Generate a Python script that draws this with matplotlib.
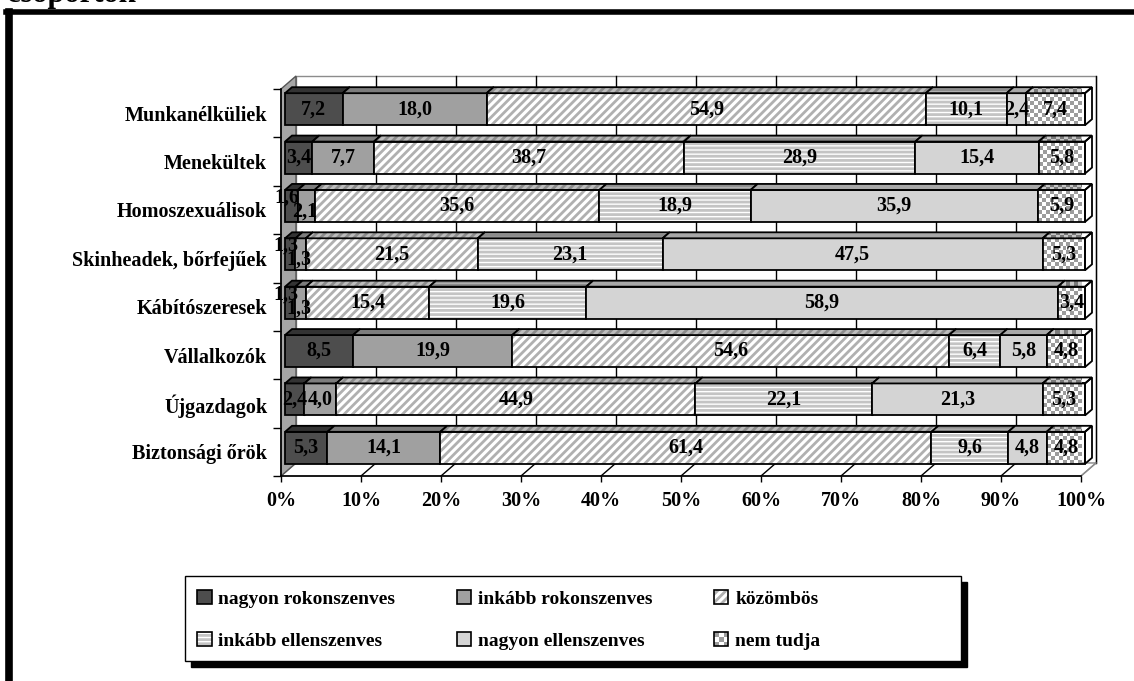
import numpy as np
import matplotlib.pyplot as plt
from matplotlib.patches import Polygon, Rectangle, Patch
from matplotlib.lines import Line2D
from matplotlib.colors import ListedColormap
from matplotlib.legend_handler import HandlerBase

plt.rcParams['font.family'] = ['Liberation Serif', 'DejaVu Serif']
plt.rcParams['font.weight'] = 'bold'
plt.rcParams['hatch.linewidth'] = 2.0

# data (top row first)
categories = ['Munkanélküliek', 'Menekültek', 'Homoszexuálisok', 'Skinheadek, bőrfejűek',
              'Kábítószeresek', 'Vállalkozók', 'Újgazdagok', 'Biztonsági őrök']
series = ['nagyon rokonszenves', 'inkább rokonszenves', 'közömbös',
          'inkább ellenszenves', 'nagyon ellenszenves', 'nem tudja']
nagyon_rokonszenves = [7.2, 3.4, 1.6, 1.3, 1.3, 8.5, 2.4, 5.3]
inkabb_rokonszenves = [18.0, 7.7, 2.1, 1.3, 1.3, 19.9, 4.0, 14.1]
kozombos = [54.9, 38.7, 35.6, 21.5, 15.4, 54.6, 44.9, 61.4]
inkabb_ellenszenves = [10.1, 28.9, 18.9, 23.1, 19.6, 6.4, 22.1, 9.6]
nagyon_ellenszenves = [2.4, 15.4, 35.9, 47.5, 58.9, 5.8, 21.3, 4.8]
nem_tudja = [7.4, 5.8, 5.9, 5.3, 3.4, 4.8, 5.3, 4.8]
xticks = [0, 10, 20, 30, 40, 50, 60, 70, 80, 90, 100]

values = np.array([nagyon_rokonszenves, inkabb_rokonszenves, kozombos,
                   inkabb_ellenszenves, nagyon_ellenszenves, nem_tudja]).T
shares = values / values.sum(axis=1, keepdims=True) * 100  # 100% stacked

# face styles: front, top, side  -> (facecolor, hatch, hatchcolor) or ('checker', c1, c2)
styles = [
    [('#4d4d4d', None, None), ('#333333', None, None), ('#262626', None, None)],
    [('#a0a0a0', None, None), ('#7d7d7d', None, None), ('#666666', None, None)],
    [('white', '////', '#b0b0b0'), ('#bdbdbd', '////', '#8c8c8c'), ('#bdbdbd', '////', '#8c8c8c')],
    [('white', '----', '#c4c4c4'), ('#b0b0b0', '----', '#8c8c8c'), ('#b0b0b0', '----', '#8c8c8c')],
    [('#d4d4d4', None, None), ('#a8a8a8', None, None), ('#8a8a8a', None, None)],
    [('checker', '#9c9c9c', 'white'), ('checker', '#7a7a7a', '#c6c6c6'), ('checker', '#4d4d4d', '#8a8a8a')],
]

W, H = 1134, 681
n = len(categories)
fig = plt.figure(figsize=(W / 100, H / 100), dpi=100)
ax = fig.add_axes([281 / W, 1 - 476 / H, 800 / W, 387 / H])
PX = 100 / 800   # data units per pixel, x
PY = n / 387     # data units per pixel, y
WDX, WDY = 15 * PX, 13 * PY   # wall depth
ylo, yhi = -0.5, n - 0.5


def checker_face(verts, c1, c2, z, cell=4):
    verts = np.asarray(verts)
    x0, y0 = verts.min(axis=0)
    x1, y1 = verts.max(axis=0)
    nx = max(1, int(round((x1 - x0) / PX / cell)))
    ny = max(1, int(round((y1 - y0) / PY / cell)))
    grid = np.add.outer(np.arange(ny), np.arange(nx)) % 2
    clip = Polygon(verts, closed=True, transform=ax.transData)
    ax.imshow(grid, cmap=ListedColormap([c1, c2]), vmin=0, vmax=1,
              extent=(x0, x1, y0, y1), origin='lower', aspect='auto',
              interpolation='nearest', clip_path=clip, zorder=z)


def face(verts, style, z):
    if style[0] == 'checker':
        checker_face(verts, style[1], style[2], z)
    else:
        ax.add_patch(Polygon(verts, closed=True, facecolor=style[0],
                             edgecolor=style[2] or 'none', hatch=style[1],
                             lw=0, zorder=z, clip_on=False))
    ax.add_patch(Polygon(verts, closed=True, fill=False, edgecolor='black',
                         lw=1.3, zorder=z + 0.01, clip_on=False, joinstyle='miter'))


# back wall, floor and left wall
ax.add_patch(Rectangle((WDX, ylo + WDY), 100, yhi - ylo, facecolor='white',
                       edgecolor='#8c8c8c', lw=1, zorder=0, clip_on=False))
ax.add_patch(Polygon([(0, ylo), (100, ylo), (100 + WDX, ylo + WDY), (WDX, ylo + WDY)],
                     facecolor='white', edgecolor='#8c8c8c', lw=1, zorder=0, clip_on=False))
for t in xticks[1:]:
    ax.plot([t + WDX, t + WDX], [ylo + WDY, yhi + WDY], color='black', lw=1, zorder=0.5, clip_on=False)
    ax.plot([t, t + WDX], [ylo, ylo + WDY], color='black' if t < 100 else '#8c8c8c',
            lw=1, zorder=0.5, clip_on=False)
ax.add_patch(Polygon([(0, ylo), (0, yhi), (WDX, yhi + WDY), (WDX, ylo + WDY)],
                     facecolor='#a6a6a6', edgecolor='#555555', lw=1, zorder=0.6, clip_on=False))

# bars
FDX, FDY = 4 * PX, 4 * PY      # front face offset
BDX, BDY = 7 * PX, 6 * PY      # bar depth
half = 16 * PY
z = 1
for i, cat in enumerate(categories):
    yc = n - 1 - i + FDY
    left = 0
    for j in range(len(series)):
        x0 = left + FDX
        x1 = left + shares[i, j] + FDX
        front = [(x0, yc - half), (x1, yc - half), (x1, yc + half), (x0, yc + half)]
        top = [(x0, yc + half), (x1, yc + half), (x1 + BDX, yc + half + BDY), (x0 + BDX, yc + half + BDY)]
        side = [(x1, yc - half), (x1, yc + half), (x1 + BDX, yc + half + BDY), (x1 + BDX, yc - half + BDY)]
        face(side, styles[j][2], z)
        face(front, styles[j][0], z + 0.1)
        face(top, styles[j][1], z + 0.2)
        z += 1
        left += shares[i, j]

# value labels (stagger two neighbouring tiny segments)
for i in range(n):
    yc = n - 1 - i + FDY
    left = 0
    row = values[i]
    for j in range(len(series)):
        dx, dy = 0, 0
        if row[j] < 2.5:
            if j + 1 < len(series) and row[j + 1] < 2.5:
                dx, dy = -3, 6
            elif j > 0 and row[j - 1] < 2.5:
                dx, dy = -1, -4
        cx = left + shares[i, j] / 2 + FDX
        ax.annotate(f'{row[j]:.1f}'.replace('.', ','), (cx, yc), xytext=(dx, dy),
                    textcoords='offset points', ha='center', va='center',
                    fontsize=14.5, fontweight='bold', zorder=500, annotation_clip=False)
        left += shares[i, j]

ax.set_xlim(0, 100)
ax.set_ylim(ylo, yhi)
ax.set_xticks(xticks, [f'{t}%' for t in xticks])
ax.set_yticks(np.arange(n)[::-1], categories)
ax.set_yticks(np.arange(n + 1) - 0.5, minor=True)
ax.tick_params(axis='x', length=4.5, width=1, pad=6, labelsize=14.5)
ax.tick_params(axis='y', which='major', length=0, pad=10, labelsize=14.5)
ax.tick_params(axis='y', which='minor', length=6, width=1)
for s in ['top', 'right']:
    ax.spines[s].set_visible(False)
for s in ['left', 'bottom']:
    ax.spines[s].set_linewidth(1.2)
ax.patch.set_visible(False)


# legend
class SwatchHandler(HandlerBase):
    def __init__(self, style):
        super().__init__()
        self.style = style

    def create_artists(self, legend, orig_handle, xdescent, ydescent, width, height, fontsize, trans):
        x, y = -xdescent, -ydescent
        arts = []
        if self.style[0] == 'checker':
            k = 3
            for a in range(k):
                for b in range(k):
                    c = self.style[1] if (a + b) % 2 == 0 else self.style[2]
                    arts.append(Rectangle((x + a * width / k, y + b * height / k), width / k, height / k,
                                          facecolor=c, edgecolor='none', transform=trans))
        else:
            arts.append(Rectangle((x, y), width, height, facecolor=self.style[0],
                                  edgecolor=self.style[2] or 'none', hatch=self.style[1],
                                  lw=0, transform=trans))
        arts.append(Rectangle((x, y), width, height, fill=False, edgecolor='black', lw=1.2, transform=trans))
        return arts


handles = [Patch(label=s) for s in series]
hmap = {h: SwatchHandler(styles[k][0]) for k, h in enumerate(handles)}
order = [0, 3, 1, 4, 2, 5]
fig.legend([handles[k] for k in order], [series[k] for k in order], handler_map=hmap,
           ncol=3, loc='upper left', bbox_to_anchor=(197 / W, 1 - 590 / H), frameon=False,
           fontsize=14, handlelength=0.75, handleheight=0.75, handletextpad=0.35,
           columnspacing=3.15, labelspacing=1.25, borderpad=0, borderaxespad=0)
fig.patches.append(Rectangle((191 / W, 1 - 667 / H), 776 / W, 85 / H, transform=fig.transFigure,
                             facecolor='black', edgecolor='black', zorder=0))
fig.patches.append(Rectangle((185 / W, 1 - 661 / H), 776 / W, 85 / H, transform=fig.transFigure,
                             facecolor='white', edgecolor='black', lw=1, zorder=0.5))

# outer frame and the cut-off heading
fig.add_artist(Line2D([9 / W, 9 / W], [0, 1 - 12 / H], color='black', lw=5.5, transform=fig.transFigure))
fig.add_artist(Line2D([9 / W - 2.7 / W, 1], [1 - 12 / H, 1 - 12 / H], color='black', lw=4,
                      transform=fig.transFigure))
fig.text(7 / W, 1 - 2 / H, 'csoportok', fontsize=22, fontweight='bold', ha='left', va='baseline')

fig.savefig('out.png', dpi=100)
